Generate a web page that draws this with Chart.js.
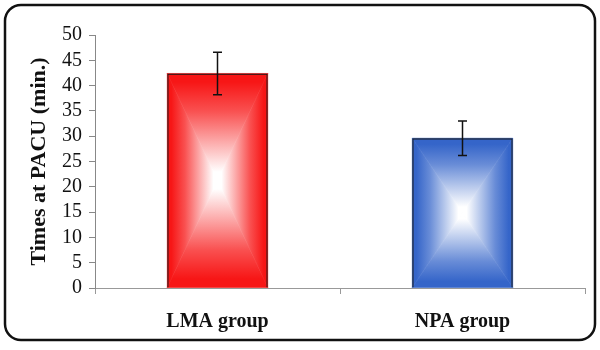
<!DOCTYPE html>
<html>
<head>
<meta charset="utf-8">
<script src="https://cdn.jsdelivr.net/npm/chart.js@4.4.1/dist/chart.umd.min.js"></script>
<style>
  html, body { margin: 0; padding: 0; background: #fff; }
  #wrap { width: 600px; height: 350px; position: relative; }
</style>
</head>
<body>
<div id="wrap"><canvas id="pacuChart"></canvas></div>
<script>
// data
const groups = ['LMA group', 'NPA group'];
const meanTimes = [42.4, 29.6];
const sdTimes = [4.2, 3.4];
const barColors = ['#f71616', '#3565c9'];
const yTicks = [0, 5, 10, 15, 20, 25, 30, 35, 40, 45, 50];

const serif = "'Times New Roman', 'Liberation Serif', serif";

// mix a hex colour with white
function tint(hex, k) {
    const n = parseInt(hex.slice(1), 16);
    const r = (n >> 16) & 255, g = (n >> 8) & 255, b = n & 255;
    const m = c => Math.round(c + (255 - c) * k);
    return 'rgb(' + m(r) + ',' + m(g) + ',' + m(b) + ')';
}

// outer rounded frame
const framePlugin = {
    id: 'frame',
    beforeDraw(chart) {
        const ctx = chart.ctx;
        ctx.save();
        ctx.strokeStyle = '#111';
        ctx.lineWidth = 2.5;
        ctx.beginPath();
        ctx.roundRect(5, 5, 590, 335, 16);
        ctx.stroke();
        ctx.restore();
    }
};

// rectangular "from centre" gradient inside each bar
const boxGradientPlugin = {
    id: 'boxGradient',
    beforeDatasetsDraw(chart) {
        const ctx = chart.ctx;
        const meta = chart.getDatasetMeta(0);
        meta.data.forEach((bar, i) => {
            const left = bar.x - bar.width / 2;
            const right = bar.x + bar.width / 2;
            const top = Math.min(bar.y, bar.base);
            const bottom = Math.max(bar.y, bar.base);
            const cx = (left + right) / 2;
            const cy = (top + bottom) / 2;
            const col = barColors[i];
            const tris = [
                [[left, top], [right, top], [cx, top]],
                [[right, top], [right, bottom], [right, cy]],
                [[right, bottom], [left, bottom], [cx, bottom]],
                [[left, bottom], [left, top], [left, cy]]
            ];
            tris.forEach(t => {
                const g = ctx.createLinearGradient(t[2][0], t[2][1], cx, cy);
                g.addColorStop(0, col);
                g.addColorStop(0.08, col);
                g.addColorStop(0.35, tint(col, 0.25));
                g.addColorStop(0.65, tint(col, 0.65));
                g.addColorStop(0.92, '#ffffff');
                g.addColorStop(1, '#ffffff');
                ctx.save();
                ctx.beginPath();
                ctx.moveTo(t[0][0], t[0][1]);
                ctx.lineTo(t[1][0], t[1][1]);
                ctx.lineTo(cx, cy);
                ctx.closePath();
                ctx.fillStyle = g;
                ctx.fill();
                ctx.strokeStyle = g;
                ctx.lineWidth = 0.6;
                ctx.stroke();
                ctx.restore();
            });
        });
    }
};

// error bars (mean +/- sd)
const errorBarPlugin = {
    id: 'errorBars',
    afterDatasetsDraw(chart) {
        const ctx = chart.ctx;
        const yScale = chart.scales.y;
        const meta = chart.getDatasetMeta(0);
        ctx.save();
        ctx.strokeStyle = '#111';
        ctx.lineWidth = 1.5;
        meta.data.forEach((bar, i) => {
            const yHi = yScale.getPixelForValue(meanTimes[i] + sdTimes[i]);
            const yLo = yScale.getPixelForValue(meanTimes[i] - sdTimes[i]);
            const x = bar.x;
            ctx.beginPath();
            ctx.moveTo(x, yHi);
            ctx.lineTo(x, yLo);
            ctx.moveTo(x - 4.5, yHi);
            ctx.lineTo(x + 4.5, yHi);
            ctx.moveTo(x - 4.5, yLo);
            ctx.lineTo(x + 4.5, yLo);
            ctx.stroke();
        });
        ctx.restore();
    }
};

const ctx = document.getElementById('pacuChart').getContext('2d');
new Chart(ctx, {
    type: 'bar',
    data: {
        labels: groups,
        datasets: [{
            data: meanTimes,
            backgroundColor: 'rgba(0,0,0,0)',
            borderColor: '#1a1a1a',
            borderWidth: 1.2,
            barPercentage: 0.41,
            categoryPercentage: 1.0
        }]
    },
    options: {
        responsive: true,
        maintainAspectRatio: false,
        animation: false,
        layout: { padding: { left: 16, right: 15, top: 35, bottom: 10 } },
        plugins: {
            legend: { display: false },
            tooltip: { enabled: false }
        },
        scales: {
            x: {
                offset: true,
                grid: {
                    offset: true,
                    drawOnChartArea: false,
                    tickLength: 6,
                    color: '#999'
                },
                border: { color: '#999', width: 1 },
                ticks: {
                    color: '#111',
                    padding: 16,
                    font: { family: serif, size: 20, weight: 'bold' }
                },
                afterFit(scale) { scale.height = 52; }
            },
            y: {
                min: 0,
                max: 50,
                afterBuildTicks(scale) {
                    scale.ticks = yTicks.map(v => ({ value: v }));
                },
                grid: {
                    drawOnChartArea: false,
                    tickLength: 6,
                    color: '#888'
                },
                border: { color: '#888', width: 1 },
                ticks: {
                    autoSkip: false,
                    color: '#111',
                    padding: 7,
                    font: { family: serif, size: 20 }
                },
                title: {
                    display: true,
                    text: 'Times at PACU (min.)',
                    color: '#111',
                    padding: { top: 10, bottom: 0 },
                    font: { family: serif, size: 22, weight: 'bold' }
                },
                afterFit(scale) { scale.width = 79; }
            }
        }
    },
    plugins: [framePlugin, boxGradientPlugin, errorBarPlugin]
});
</script>
</body>
</html>
